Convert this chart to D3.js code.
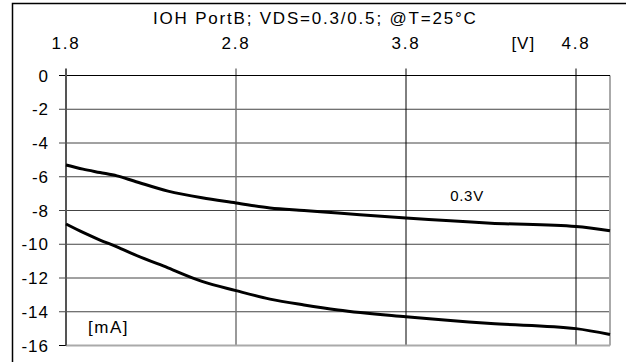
<!DOCTYPE html>
<html>
<head>
<meta charset="utf-8">
<script src="https://cdn.jsdelivr.net/npm/d3@7"></script>
<style>
  body { margin: 0; background: #fff; }
  text { font-family: "Liberation Sans", Arial, sans-serif; fill: #000; }
</style>
</head>
<body>
<div id="chart"></div>
<script>
// data
const voltage = [1.8, 1.9, 2.0, 2.1, 2.2, 2.4, 2.6, 2.8, 3.0, 3.2, 3.4, 3.8, 4.3, 4.8, 5.0];
const ioh03 = [-5.3, -5.55, -5.75, -5.95, -6.25, -6.85, -7.25, -7.55, -7.85, -8.0, -8.15, -8.45, -8.75, -8.95, -9.2];
const ioh05 = [-8.8, -9.3, -9.75, -10.15, -10.6, -11.4, -12.2, -12.75, -13.25, -13.6, -13.9, -14.3, -14.7, -15.0, -15.35];
const xTicks = [1.8, 2.8, 3.8, 4.8];
const yTicks = [0, -2, -4, -6, -8, -10, -12, -14, -16];
const title = "IOH PortB; VDS=0.3/0.5; @T=25°C";

const margin = {top: 75.5, right: 16, bottom: 16.5, left: 66},
    width = 626 - margin.left - margin.right,
    height = 362 - margin.top - margin.bottom;

const svg = d3.select("#chart")
  .append("svg")
  .attr("width", 626)
  .attr("height", 362);

// outer frame (only top and left edges fall inside the picture)
svg.append("rect")
  .attr("x", 12.5).attr("y", 3.5)
  .attr("width", 640).attr("height", 400)
  .attr("fill", "none").attr("stroke", "#000").attr("stroke-width", 1.5);

const g = svg.append("g")
  .attr("transform", `translate(${margin.left},${margin.top})`);

const x = d3.scaleLinear().domain([1.8, 5.0]).range([0, width]);
const y = d3.scaleLinear().domain([0, -16]).range([0, height]);

// horizontal grid + ticks on the left
g.selectAll(".hgrid")
  .data(yTicks.filter(d => d !== 0 && d !== -16))
  .join("line")
  .attr("x1", -7).attr("x2", width)
  .attr("y1", d => y(d)).attr("y2", d => y(d))
  .attr("stroke", "#444").attr("stroke-width", 1);

// vertical grid + ticks on top
g.selectAll(".vgrid")
  .data(xTicks.slice(1))
  .join("line")
  .attr("x1", d => x(d)).attr("x2", d => x(d))
  .attr("y1", -7).attr("y2", height)
  .attr("stroke", d => d === 2.8 ? "#777" : "#000")
  .attr("stroke-width", d => d === 2.8 ? 1.5 : 1);

// bottom and right borders of plot
g.append("line")
  .attr("x1", 0).attr("x2", width)
  .attr("y1", y(-16)).attr("y2", y(-16))
  .attr("stroke", "#aaa").attr("stroke-width", 2);
g.append("line")
  .attr("x1", width).attr("x2", width)
  .attr("y1", 0).attr("y2", height)
  .attr("stroke", "#aaa").attr("stroke-width", 2);

// y tick marks for 0 and -16
g.selectAll(".yend")
  .data([0, -16])
  .join("line")
  .attr("x1", -7).attr("x2", 0)
  .attr("y1", d => y(d)).attr("y2", d => y(d))
  .attr("stroke", "#000").attr("stroke-width", 1);

// top axis line (y = 0)
g.append("line")
  .attr("x1", -7).attr("x2", width)
  .attr("y1", y(0)).attr("y2", y(0))
  .attr("stroke", "#000").attr("stroke-width", 1);

// left axis line
g.append("line")
  .attr("x1", 0).attr("x2", 0)
  .attr("y1", -7).attr("y2", height)
  .attr("stroke", "#555").attr("stroke-width", 2);

// tick labels
g.selectAll(".xlab")
  .data(xTicks)
  .join("text")
  .attr("x", d => x(d))
  .attr("y", -27)
  .attr("text-anchor", "middle")
  .attr("font-size", 17)
  .attr("letter-spacing", 1.8)
  .text(d => d.toFixed(1));

g.selectAll(".ylab")
  .data(yTicks)
  .join("text")
  .attr("x", -17)
  .attr("y", d => y(d) + 6)
  .attr("text-anchor", "end")
  .attr("font-size", 17)
  .attr("letter-spacing", 1)
  .text(d => d);

// curves
const line = d3.line()
  .x(d => x(d[0]))
  .y(d => y(d[1]))
  .curve(d3.curveMonotoneX);

[ioh03, ioh05].forEach(series => {
  g.append("path")
    .datum(voltage.map((v, i) => [v, series[i]]))
    .attr("fill", "none")
    .attr("stroke", "#000")
    .attr("stroke-width", 3)
    .attr("d", line);
});

// annotations
g.append("text")
  .attr("x", x(4.06)).attr("y", y(-7.45))
  .attr("font-size", 15).attr("letter-spacing", 0.7)
  .text("0.3V");

g.append("text")
  .attr("x", x(1.93)).attr("y", y(-15.27))
  .attr("font-size", 17).attr("letter-spacing", 1.5)
  .text("[mA]");

g.append("text")
  .attr("x", x(4.42)).attr("y", -27)
  .attr("font-size", 17).attr("letter-spacing", 1)
  .text("[V]");

svg.append("text")
  .attr("x", 153).attr("y", 24)
  .attr("font-size", 17)
  .attr("letter-spacing", 1.8)
  .text(title);
</script>
</body>
</html>
